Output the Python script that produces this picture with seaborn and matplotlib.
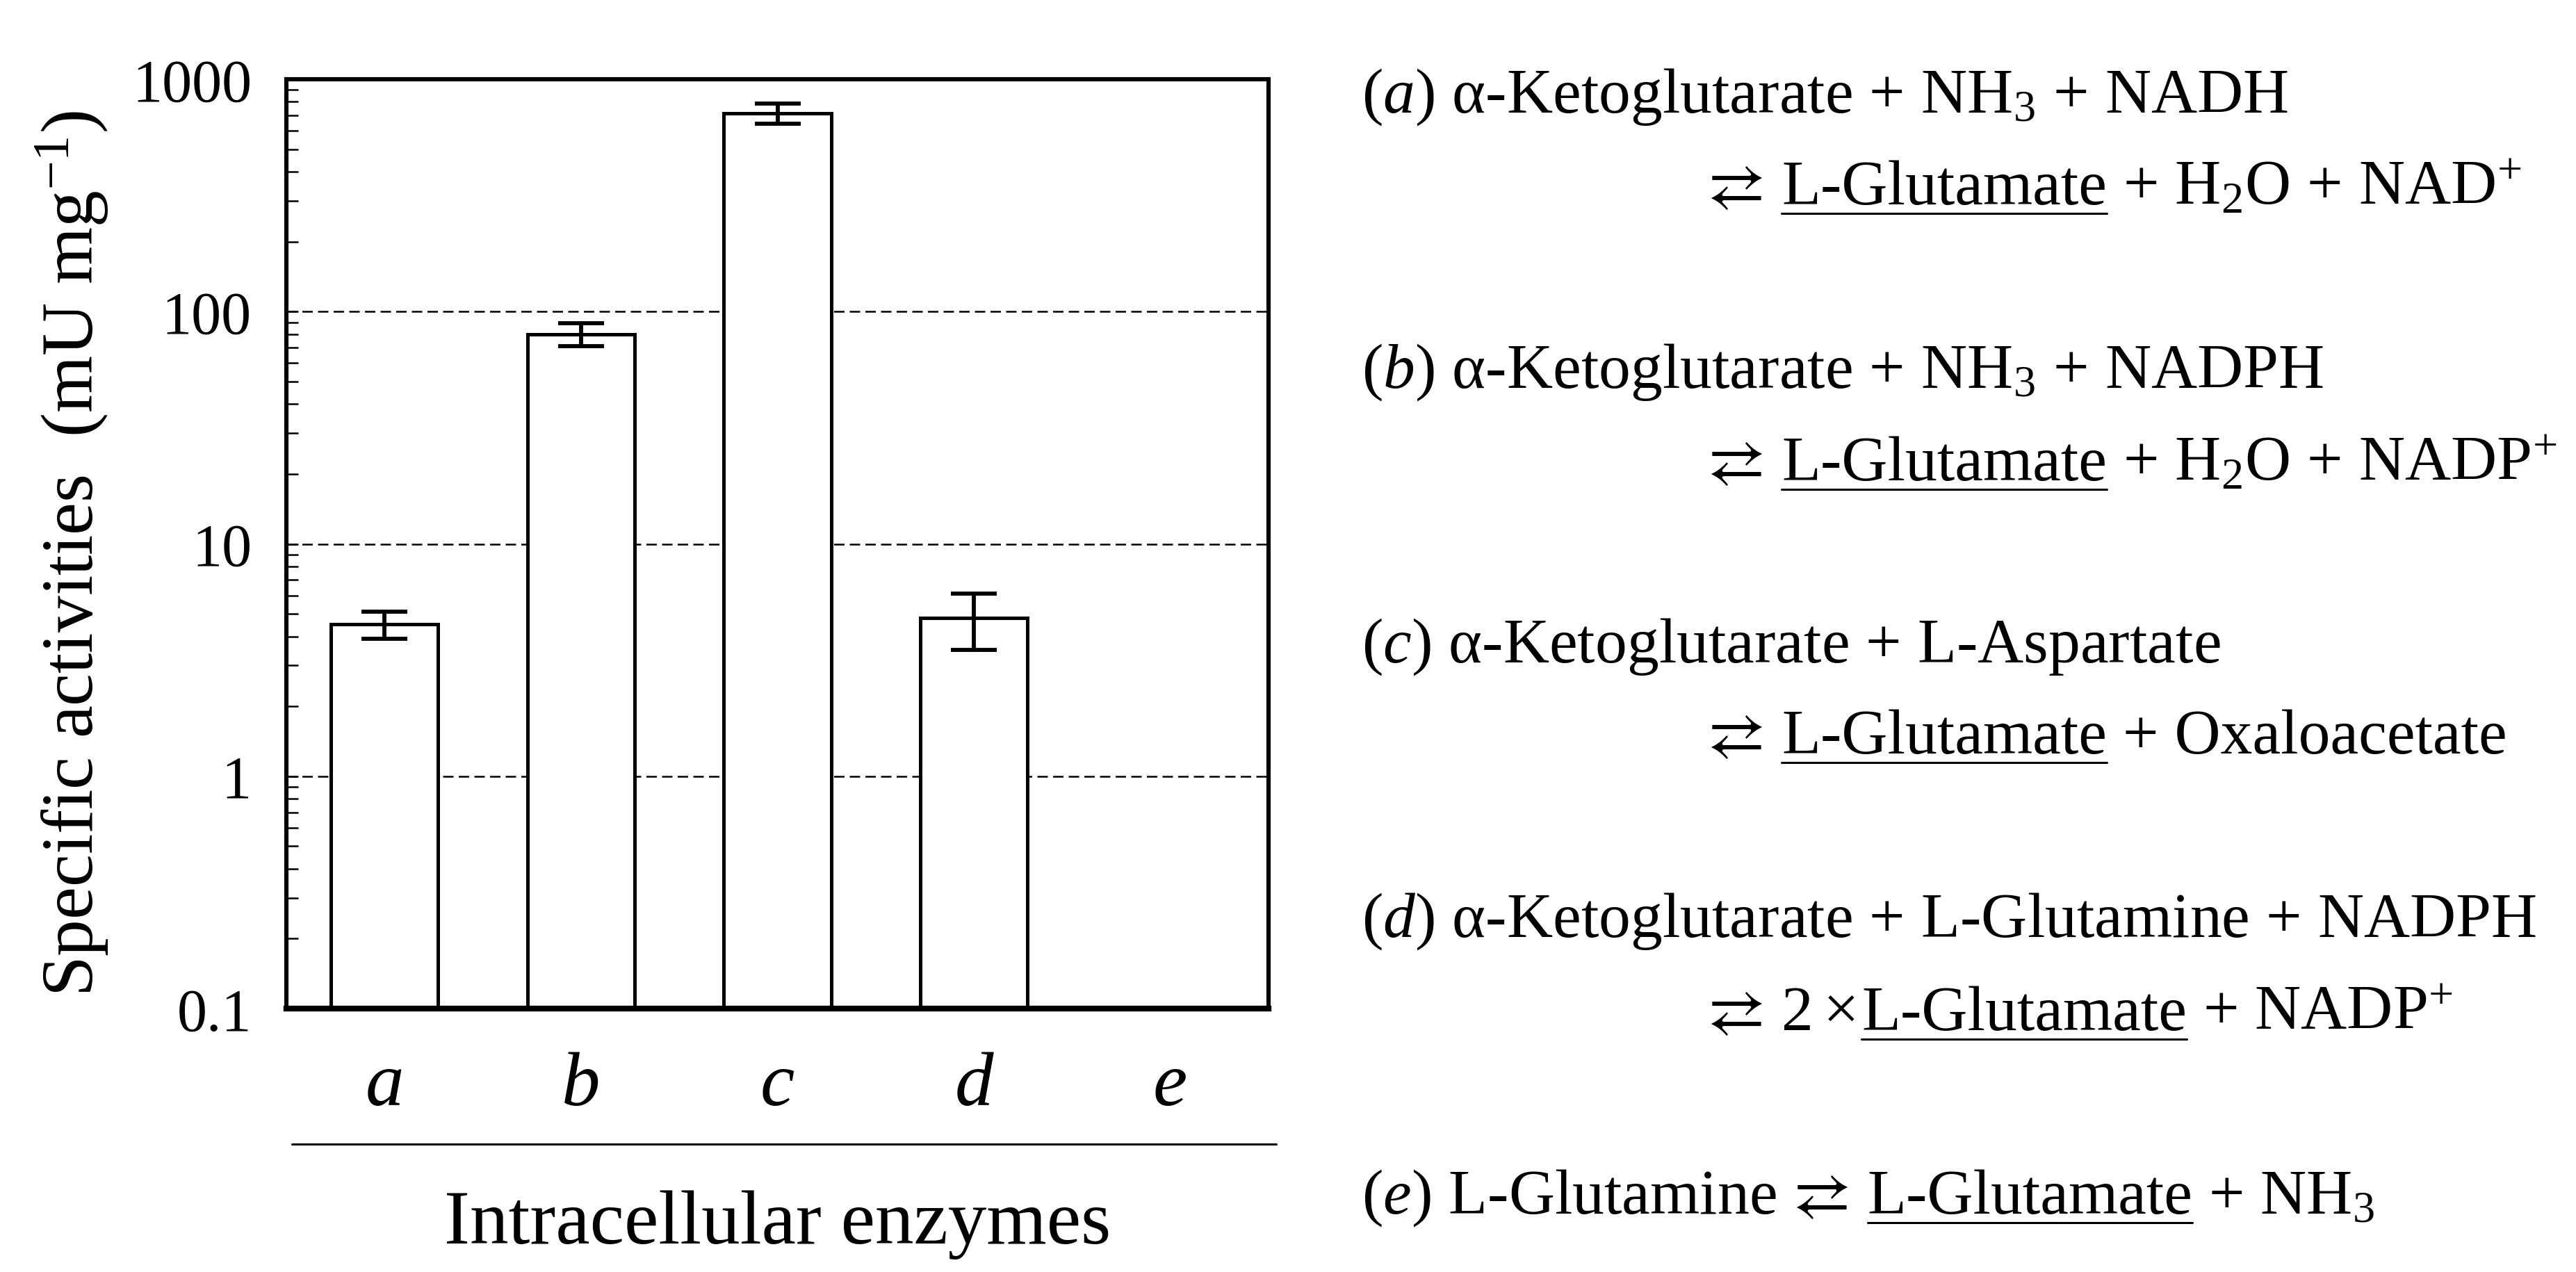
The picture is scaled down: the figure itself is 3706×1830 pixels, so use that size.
import matplotlib
import matplotlib.pyplot as plt
import numpy as np
import pandas as pd
import seaborn as sns
from matplotlib.lines import Line2D
from matplotlib.ticker import FixedLocator, FuncFormatter, LogLocator

matplotlib.use("Agg")

# data
enzymes = ["a", "b", "c", "d", "e"]
activity = [4.5, 80.0, 715.0, 4.8, np.nan]
activity_sd = [0.6, 9.0, 70.0, 1.3, np.nan]
y_ticks = [0.1, 1, 10, 100, 1000]

# reaction equations shown to the right of the chart
SP = 23
reactions = [
    [[("($\\mathit{a}$) α-Ketoglutarate + NH$_3$ + NADH", "n")],
     [("⇄", "arr"), SP, ("L-Glutamate", "u"), SP, ("+ H$_2$O + NAD$^{+}$", "n")]],
    [[("($\\mathit{b}$) α-Ketoglutarate + NH$_3$ + NADPH", "n")],
     [("⇄", "arr"), SP, ("L-Glutamate", "u"), SP, ("+ H$_2$O + NADP$^{+}$", "n")]],
    [[("($\\mathit{c}$) α-Ketoglutarate + L-Aspartate", "n")],
     [("⇄", "arr"), SP, ("L-Glutamate", "u"), SP, ("+ Oxaloacetate", "n")]],
    [[("($\\mathit{d}$) α-Ketoglutarate + L-Glutamine + NADPH", "n")],
     [("⇄", "arr"), SP, ("2", "n"), 14, ("×", "n"), 4, ("L-Glutamate", "u"), SP,
      ("+ NADP$^{+}$", "n")]],
    [[("($\\mathit{e}$) L-Glutamine", "n"), SP, ("⇄", "arr"), SP, ("L-Glutamate", "u"),
      SP, ("+ NH$_3$", "n")]],
]
line_x = [1959, 2455]
baselines = [[162, 294], [558, 691], [953, 1084], [1348, 1482], [1746]]

W, H, DPI = 3706, 1831, 200

sns.set_theme(style="white")
plt.rcParams["font.family"] = ["Liberation Serif", "DejaVu Sans"]
plt.rcParams["mathtext.fontset"] = "custom"
plt.rcParams["mathtext.rm"] = "Liberation Serif"
plt.rcParams["mathtext.it"] = "Liberation Serif:italic"
plt.rcParams["mathtext.default"] = "regular"
for key in ["text.color", "axes.labelcolor", "xtick.color", "ytick.color"]:
    plt.rcParams[key] = "black"

fig = plt.figure(figsize=(W / DPI, H / DPI), dpi=DPI, facecolor="white")
ax = fig.add_axes([412 / W, 1 - 1452 / H, 1413 / W, 1337 / H])

df = pd.DataFrame({"enzyme": enzymes, "activity": activity})
sns.barplot(
    data=df,
    x="enzyme",
    y="activity",
    order=enzymes,
    color="white",
    edgecolor="black",
    linewidth=1.8,
    width=0.545,
    errorbar=None,
    ax=ax,
    zorder=2,
)
ax.errorbar(
    x=np.arange(len(enzymes)),
    y=activity,
    yerr=activity_sd,
    fmt="none",
    ecolor="black",
    elinewidth=2.1,
    capsize=12,
    capthick=2.1,
    zorder=3,
)

ax.set_yscale("log")
ax.set_ylim(0.1, 1000)
ax.set_xlim(-0.5, 4.5)
ax.yaxis.set_major_locator(FixedLocator(y_ticks))
ax.yaxis.set_major_formatter(FuncFormatter(lambda v, _: f"{v:g}"))
ax.yaxis.set_minor_locator(LogLocator(base=10, subs=np.arange(2, 10)))
for v in [1, 10, 100]:
    ax.axhline(v, color="black", lw=0.9, ls=(0, (6, 3)), zorder=1)

ax.set_xticks([0.5, 1.5, 2.5, 3.5], minor=True)
ax.tick_params(axis="x", which="major", length=0, pad=22, labelsize=40)
ax.tick_params(axis="x", which="minor", direction="in", length=6.5, width=1.1)
ax.tick_params(axis="y", which="both", direction="in", left=True, right=False,
               labelsize=31, pad=18)
ax.tick_params(axis="y", which="major", length=6, width=0.9)
ax.tick_params(axis="y", which="minor", length=6, width=0.9)
for lab in ax.get_xticklabels():
    lab.set_fontstyle("italic")

for side in ["left", "right", "top"]:
    ax.spines[side].set_linewidth(2.2)
    ax.spines[side].set_color("black")
ax.spines["bottom"].set_linewidth(3.0)
ax.spines["bottom"].set_color("black")

ax.set_xlabel("Intracellular enzymes", fontsize=40)
ax.xaxis.label.set_va("baseline")
ax.xaxis.set_label_coords(0.5, (1452 - 1789) / 1337)
ax.set_ylabel("Specific activities  (mU mg$^{-1}$)", fontsize=38)
ax.yaxis.label.set_va("center")
ax.yaxis.set_label_coords((104 - 412) / 1413, (1452 - 797) / 1337)

# line under the category letters
ax.plot([0.006, 1.008], [(1452 - 1647) / 1337] * 2, transform=ax.transAxes,
        clip_on=False, color="black", lw=1.1)

# reaction list, laid out piece by piece so the product can be underlined
renderer = fig.canvas.get_renderer()
FS = 33


def put_line(x, y, segs):
    for seg in segs:
        if not isinstance(seg, tuple):
            x += seg
            continue
        text, kind = seg
        family = ["STIXGeneral"] if kind == "arr" else ["Liberation Serif", "DejaVu Sans"]
        t = fig.text(x / W, 1 - y / H, text, fontsize=FS, family=family,
                     ha="left", va="baseline")
        bb = t.get_window_extent(renderer)
        if kind == "u":
            uy = 1 - (y + 14) / H
            fig.add_artist(Line2D([bb.x0 / W, bb.x1 / W], [uy, uy], color="black", lw=1.1))
        x = bb.x1


for lines, ys in zip(reactions, baselines):
    for i, (segs, y) in enumerate(zip(lines, ys)):
        put_line(line_x[i], y, segs)

fig.savefig("out.png", dpi=DPI, facecolor="white")
